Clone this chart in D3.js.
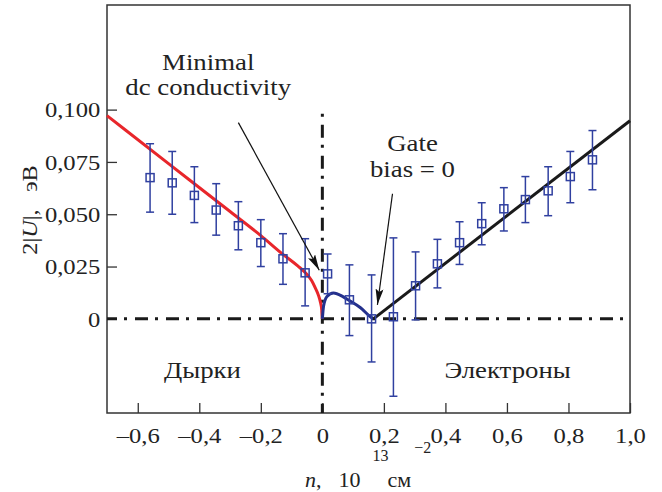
<!DOCTYPE html>
<html>
<head>
<meta charset="utf-8">
<script src="https://cdn.jsdelivr.net/npm/d3@7"></script>
<style>
  body { margin: 0; background: #fff; }
  text { font-family: "Liberation Serif", "Times New Roman", serif; fill: #222; }
</style>
</head>
<body>
<script>
// measured points: n (10^13 cm^-2), 2|U| (eV), error bar ends
var nVals  = [-0.560, -0.488, -0.416, -0.345, -0.273, -0.200, -0.128, -0.056, 0.017, 0.088, 0.160,
              0.231, 0.303, 0.374, 0.446, 0.518, 0.590, 0.660, 0.734, 0.806, 0.878];
var uVals  = [0.0675, 0.065, 0.059, 0.052, 0.0445, 0.0364, 0.0287, 0.022, 0.0215, 0.0091, 0.0,
              0.001, 0.0158, 0.0263, 0.0364, 0.0455, 0.0526, 0.057, 0.0612, 0.068, 0.076];
var errHi  = [0.0837, 0.080, 0.0727, 0.0646, 0.056, 0.0474, 0.0407, 0.0383, 0.031, 0.0258, 0.021,
              0.0387, 0.032, 0.038, 0.0464, 0.0555, 0.0627, 0.068, 0.0727, 0.080, 0.090];
var errLo  = [0.051, 0.050, 0.046, 0.040, 0.033, 0.025, 0.0165, 0.0062, 0.012, -0.008, -0.0206,
              -0.037, -0.0005, 0.0148, 0.026, 0.0354, 0.042, 0.046, 0.0493, 0.0555, 0.0617];

// model curves
var holeCurve = [[-0.7, 0.0971], [-0.5, 0.0742], [-0.3, 0.0513], [-0.2, 0.0398], [-0.127, 0.0307],
                 [-0.08, 0.0253], [-0.055, 0.022], [-0.035, 0.0183], [-0.023, 0.0148], [-0.012, 0.011],
                 [-0.0065, 0.0081], [-0.002, 0.0042], [0, 0]];
var gapCurve  = [[0, 0], [0.004, 0.0062], [0.015, 0.0107], [0.036, 0.0124], [0.068, 0.0105],
                 [0.085, 0.009], [0.124, 0.0053], [0.156, 0.001], [0.166, 0]];
var elecLine  = [[0.166, 0], [1.0, 0.0947]];

var xTicks = [-0.6, -0.4, -0.2, 0, 0.2, 0.4, 0.6, 0.8, 1.0];
var yTicks = [0, 0.025, 0.05, 0.075, 0.1];

var margin = {top: 5, right: 32, bottom: 79, left: 107},
    width = 662 - margin.left - margin.right,
    height = 492 - margin.top - margin.bottom;

var svg = d3.select("body").append("svg")
    .attr("width", 662)
    .attr("height", 492)
  .append("g")
    .attr("transform", "translate(" + margin.left + "," + margin.top + ")");

var x = d3.scaleLinear().domain([-0.7, 1.0]).range([0, width]);
var y = d3.scaleLinear().domain([-0.045, 0.150]).range([height, 0]);

var defs = svg.append("defs");
defs.append("marker")
    .attr("id", "head")
    .attr("viewBox", "0 0 16 8")
    .attr("refX", 16).attr("refY", 4)
    .attr("markerWidth", 16).attr("markerHeight", 8)
    .attr("markerUnits", "userSpaceOnUse")
    .attr("orient", "auto")
  .append("path")
    .attr("d", "M0,0 L16,4 L0,8 L3,4 Z")
    .attr("fill", "#111");

function fmtX(d) {
  if (d === 0) return "0";
  var s = d3.format(".1f")(Math.abs(d)).replace(".", ",");
  return d < 0 ? "\u2013" + s : s;
}
function fmtY(d) {
  return d === 0 ? "0" : d3.format(".3f")(d).replace(".", ",");
}

// axes, ticks pointing inward
var xAxis = svg.append("g")
    .attr("transform", "translate(0," + height + ")")
    .call(d3.axisBottom(x).tickValues(xTicks).tickSize(-10).tickSizeOuter(0).tickFormat(fmtX));
xAxis.select(".domain").remove();
xAxis.selectAll("line").attr("stroke", "#333").attr("stroke-width", 1.3);
xAxis.selectAll("text")
    .attr("y", 14)
    .attr("font-size", 22)
    .attr("fill", "#222")
    .attr("transform", "scale(1.12,1)");

var yAxis = svg.append("g")
    .call(d3.axisLeft(y).tickValues(yTicks).tickSize(-10).tickSizeOuter(0).tickFormat(fmtY));
yAxis.select(".domain").remove();
yAxis.selectAll("line").attr("stroke", "#333").attr("stroke-width", 1.3);
yAxis.selectAll("text")
    .attr("x", -6)
    .attr("dy", "0.33em")
    .attr("font-size", 22)
    .attr("fill", "#222")
    .attr("transform", "scale(1.12,1)");

// frame
svg.append("rect")
    .attr("width", width)
    .attr("height", height)
    .attr("fill", "none")
    .attr("stroke", "#333")
    .attr("stroke-width", 1.5);

// dash-dot reference lines
svg.append("line")
    .attr("x1", 0).attr("x2", width)
    .attr("y1", y(0)).attr("y2", y(0))
    .attr("stroke", "#1a1a1a")
    .attr("stroke-width", 3)
    .attr("stroke-dasharray", "13,7,3,8")
    .attr("stroke-dashoffset", 3);

svg.append("line")
    .attr("x1", x(0)).attr("x2", x(0))
    .attr("y1", y(0.0985)).attr("y2", height)
    .attr("stroke", "#1a1a1a")
    .attr("stroke-width", 3)
    .attr("stroke-dasharray", "13,7,3,8")
    .attr("stroke-dashoffset", 19);

// model curves
var line = d3.line()
    .x(function(d) { return x(d[0]); })
    .y(function(d) { return y(d[1]); })
    .curve(d3.curveMonotoneX);

svg.append("path").datum(holeCurve)
    .attr("d", line)
    .attr("fill", "none")
    .attr("stroke", "#e8262b")
    .attr("stroke-width", 3);

svg.append("path").datum(gapCurve)
    .attr("d", line)
    .attr("fill", "none")
    .attr("stroke", "#24308c")
    .attr("stroke-width", 3);

svg.append("path").datum(elecLine)
    .attr("d", d3.line().x(function(d) { return x(d[0]); }).y(function(d) { return y(d[1]); }))
    .attr("fill", "none")
    .attr("stroke", "#1a1a1a")
    .attr("stroke-width", 3);

// data points with error bars
var ptColor = "#3040a0";
var pts = svg.append("g").selectAll("g")
    .data(nVals.map(function(n, i) { return {n: n, u: uVals[i], hi: errHi[i], lo: errLo[i]}; }))
    .enter().append("g")
    .attr("stroke", ptColor)
    .attr("stroke-width", 1.5)
    .attr("fill", "none");

pts.append("line")
    .attr("x1", function(d) { return x(d.n); })
    .attr("x2", function(d) { return x(d.n); })
    .attr("y1", function(d) { return y(d.hi); })
    .attr("y2", function(d) { return y(d.lo); });
pts.append("line")
    .attr("x1", function(d) { return x(d.n) - 4; })
    .attr("x2", function(d) { return x(d.n) + 4; })
    .attr("y1", function(d) { return y(d.hi); })
    .attr("y2", function(d) { return y(d.hi); });
pts.append("line")
    .attr("x1", function(d) { return x(d.n) - 4; })
    .attr("x2", function(d) { return x(d.n) + 4; })
    .attr("y1", function(d) { return y(d.lo); })
    .attr("y2", function(d) { return y(d.lo); });
pts.append("rect")
    .attr("x", function(d) { return x(d.n) - 4; })
    .attr("y", function(d) { return y(d.u) - 4; })
    .attr("width", 8)
    .attr("height", 8)
    .attr("fill", "#fff")
    .attr("fill-opacity", 0);

// annotations (positions in data units)
function label(n, u, str, size) {
  svg.append("g")
      .attr("transform", "translate(" + x(n) + "," + y(u) + ")")
    .append("text")
      .attr("text-anchor", "middle")
      .attr("font-size", size)
      .attr("transform", "scale(1.14,1)")
      .text(str);
}
label(-0.371, 0.119, "Minimal", 23.5);
label(-0.371, 0.1068, "dc conductivity", 23.5);
label(0.293, 0.0804, "Gate", 23.5);
label(0.293, 0.0678, "bias = 0", 23.5);
label(-0.39, -0.0282, "Дырки", 23.5);
label(0.602, -0.0282, "Электроны", 23.5);

function arrow(n1, u1, n2, u2) {
  svg.append("line")
      .attr("x1", x(n1)).attr("y1", y(u1))
      .attr("x2", x(n2)).attr("y2", y(u2))
      .attr("stroke", "#111")
      .attr("stroke-width", 1.2)
      .attr("marker-end", "url(#head)");
}
arrow(-0.273, 0.0938, -0.010, 0.0232);
arrow(0.228, 0.0598, 0.179, 0.0067);

// axis titles
var yl = svg.append("text")
    .attr("transform", "translate(" + (37 - margin.left) + "," + (210 - margin.top) + ") rotate(-90) scale(1.1,1)")
    .attr("text-anchor", "middle")
    .attr("font-size", 22);
yl.append("tspan").text("2|");
yl.append("tspan").attr("font-style", "italic").text("U");
yl.append("tspan").text("|,");
yl.append("tspan").attr("dx", 16).text("эВ");

var xl = svg.append("text")
    .attr("transform", "translate(" + (305 - margin.left) + "," + (487 - margin.top) + ")")
    .attr("font-size", 22);
xl.append("tspan").attr("font-style", "italic").text("n");
xl.append("tspan").text(",");
xl.append("tspan").attr("dx", 17).text("10");
xl.append("tspan").attr("dx", 12).attr("dy", -26).attr("font-size", 16).text("13");
xl.append("tspan").attr("dx", -1).attr("dy", 26).text("см");
xl.append("tspan").attr("dx", 3).attr("dy", -34).attr("font-size", 16).text("\u22122");
</script>
</body>
</html>
